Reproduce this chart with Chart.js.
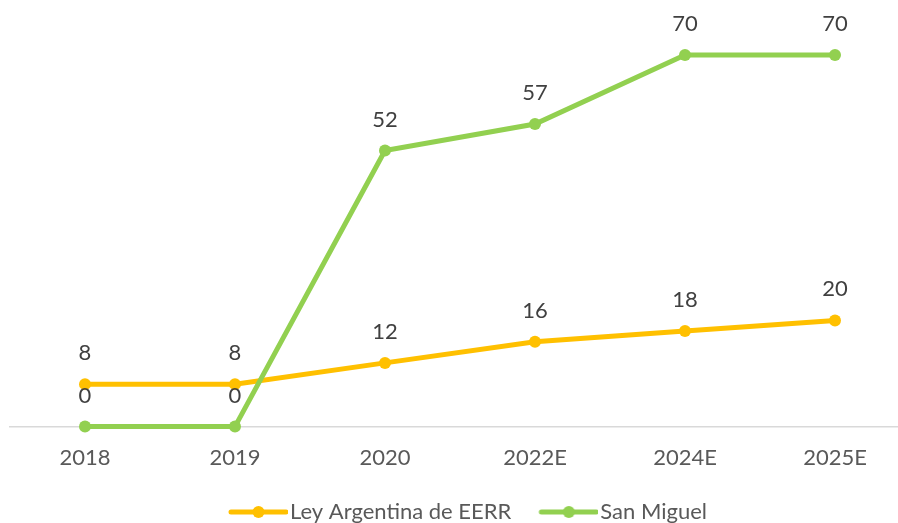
<!DOCTYPE html>
<html>
<head>
<meta charset="utf-8">
<script src="https://cdn.jsdelivr.net/npm/chart.js@4"></script>
<style>
  html, body { margin: 0; padding: 0; background: #fff; }
  #wrap { width: 898px; height: 523px; overflow: hidden; position: relative; }
  #box { width: 920px; height: 533px; position: absolute; left: 0; top: 0; }
</style>
</head>
<body>
<div id="wrap"><div id="box"><canvas id="chart"></canvas></div></div>
<script>
const years = ['2018', '2019', '2020', '2022E', '2024E', '2025E'];
const leyArgentina = [8, 8, 12, 16, 18, 20];
const sanMiguel = [0, 0, 52, 57, 70, 70];

const YELLOW = '#FFC000';
const GREEN = '#92D050';
const FONT = 'Lato, "Open Sans", sans-serif';

// legend marker: short line with a dot, drawn in the right part of the image
// so it sits just before the label text
function legendMarker(color) {
  const c = document.createElement('canvas');
  c.width = 84;
  c.height = 14;
  const g = c.getContext('2d');
  g.strokeStyle = color;
  g.lineWidth = 5;
  g.lineCap = 'round';
  g.beginPath();
  g.moveTo(27, 7);
  g.lineTo(82, 7);
  g.stroke();
  g.fillStyle = color;
  g.beginPath();
  g.arc(54.5, 7, 6, 0, Math.PI * 2);
  g.fill();
  return c;
}
const markers = [legendMarker(YELLOW), legendMarker(GREEN)];

const valueLabels = {
  id: 'valueLabels',
  afterDatasetsDraw(chart) {
    const ctx = chart.ctx;
    ctx.save();
    ctx.font = '22px ' + FONT;
    ctx.fillStyle = '#404040';
    ctx.textAlign = 'center';
    ctx.textBaseline = 'alphabetic';
    chart.data.datasets.forEach((ds, i) => {
      const meta = chart.getDatasetMeta(i);
      meta.data.forEach((pt, j) => {
        ctx.fillText(ds.data[j], pt.x, pt.y - 24);
      });
    });
    ctx.restore();
  }
};

new Chart(document.getElementById('chart'), {
  type: 'line',
  data: {
    labels: years,
    datasets: [
      {
        label: 'Ley Argentina de EERR',
        data: leyArgentina,
        borderColor: YELLOW,
        backgroundColor: YELLOW,
        borderWidth: 5,
        pointRadius: 6,
        pointBorderWidth: 0,
        pointBackgroundColor: YELLOW,
        tension: 0,
        clip: false,
        order: 1
      },
      {
        label: 'San Miguel',
        data: sanMiguel,
        borderColor: GREEN,
        backgroundColor: GREEN,
        borderWidth: 5,
        pointRadius: 6,
        pointBorderWidth: 0,
        pointBackgroundColor: GREEN,
        tension: 0,
        clip: false,
        order: 0
      }
    ]
  },
  options: {
    responsive: true,
    maintainAspectRatio: false,
    animation: false,
    layout: { padding: { top: 55, left: 10, right: 10, bottom: 0 } },
    scales: {
      x: {
        offset: true,
        grid: { display: false, drawTicks: false },
        border: { display: true, color: '#d9d9d9', width: 1.5 },
        ticks: { color: '#595959', font: { family: FONT, size: 22 }, padding: 18 }
      },
      y: {
        display: false,
        min: 0,
        max: 70
      }
    },
    plugins: {
      tooltip: { enabled: false },
      legend: {
        position: 'bottom',
        labels: {
          usePointStyle: true,
          pointStyleWidth: 66,
          padding: 12,
          color: '#595959',
          font: { family: FONT, size: 22 },
          sort: (a, b) => a.datasetIndex - b.datasetIndex,
          generateLabels(chart) {
            const items = Chart.defaults.plugins.legend.labels.generateLabels(chart);
            items.forEach(it => { it.pointStyle = markers[it.datasetIndex]; });
            return items;
          }
        }
      }
    }
  },
  plugins: [valueLabels]
});
</script>
</body>
</html>
